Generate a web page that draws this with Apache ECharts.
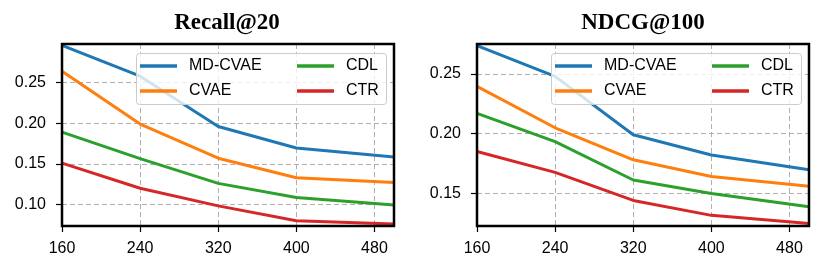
<!DOCTYPE html>
<html>
<head>
<meta charset="utf-8">
<script src="https://cdn.jsdelivr.net/npm/echarts@6/dist/echarts.min.js"></script>
<style>
html,body{margin:0;padding:0;background:#fff;}
#c{width:831px;height:271px;}
</style>
</head>
<body>
<div id="c"></div>
<script>
// ---- data ----
const xValues = [160, 240, 320, 400, 500];
const xTicks = [160, 240, 320, 400, 480];
const seriesNames = ['MD-CVAE', 'CVAE', 'CDL', 'CTR'];

const recallTitle = 'Recall@20';
const recallMDCVAE = [0.296, 0.258, 0.196, 0.1695, 0.1585];
const recallCVAE   = [0.264, 0.199, 0.157, 0.133, 0.127];
const recallCDL    = [0.189, 0.1565, 0.126, 0.1085, 0.0993];
const recallCTR    = [0.151, 0.120, 0.0983, 0.080, 0.076];
const recallTicks  = [0.10, 0.15, 0.20, 0.25];

const ndcgTitle = 'NDCG@100';
const ndcgMDCVAE = [0.2735, 0.2478, 0.199, 0.182, 0.1697];
const ndcgCVAE   = [0.2395, 0.2048, 0.178, 0.164, 0.1558];
const ndcgCDL    = [0.2168, 0.1932, 0.1611, 0.1498, 0.1387];
const ndcgCTR    = [0.1849, 0.1675, 0.144, 0.1315, 0.1246];
const ndcgTicks  = [0.15, 0.20, 0.25];

// ---- styling ----
const colors = ['#1f77b4', '#ff7f0e', '#2ca02c', '#d62728'];
const FONT = '"Liberation Sans", Arial, sans-serif';
const gridDash = {color: '#b0b0b0', width: 1, type: [5, 3]};

const panels = [
  {title: recallTitle, data: [recallMDCVAE, recallCVAE, recallCDL, recallCTR], yTicks: recallTicks,
   ymin: 0.0735, ymax: 0.2976, left: 62, cx: 227, lx: 136},
  {title: ndcgTitle, data: [ndcgMDCVAE, ndcgCVAE, ndcgCDL, ndcgCTR], yTicks: ndcgTicks,
   ymin: 0.1226, ymax: 0.2749, left: 477, cx: 643, lx: 551}
];

const option = {
  backgroundColor: '#fff',
  animation: false,
  title: [], grid: [], xAxis: [], yAxis: [], series: [], legend: [], graphic: []
};

panels.forEach((p, i) => {
  option.title.push({
    text: p.title, left: p.cx, top: 12, padding: 0, textAlign: 'center',
    textStyle: {fontFamily: '"Liberation Serif", "Times New Roman", serif', fontWeight: 'bold', fontSize: 23, color: '#000'}
  });
  option.grid.push({
    left: p.left, top: 44, width: 332, height: 182, show: true,
    borderColor: '#000', borderWidth: 2.5, backgroundColor: 'transparent', z: 3
  });
  option.xAxis.push({
    type: 'value', gridIndex: i, min: 160, max: 500, interval: 80,
    axisLine: {show: false},
    axisTick: {show: true, inside: false, length: 6, lineStyle: {color: '#000', width: 1.2}, customValues: xTicks},
    axisLabel: {show: true, margin: 15, fontFamily: FONT, fontSize: 16, color: '#000', customValues: xTicks},
    splitLine: {show: true, lineStyle: gridDash}
  });
  option.yAxis.push({
    type: 'value', gridIndex: i, min: p.ymin, max: p.ymax,
    axisLine: {show: false},
    axisTick: {show: true, inside: false, length: 6, lineStyle: {color: '#000', width: 1.2}, customValues: p.yTicks},
    axisLabel: {show: true, margin: 16, fontFamily: FONT, fontSize: 16, color: '#000',
      customValues: p.yTicks, formatter: v => v.toFixed(2)},
    splitLine: {show: true, lineStyle: gridDash}
  });
  seriesNames.forEach((name, k) => {
    option.series.push({
      name: name, type: 'line', xAxisIndex: i, yAxisIndex: i,
      data: xValues.map((x, j) => [x, p.data[k][j]]),
      symbol: 'none', lineStyle: {width: 3, color: colors[k]}, itemStyle: {color: colors[k]},
      z: 2
    });
  });
  option.graphic.push({
    type: 'rect', z: 4, left: p.lx, top: 53,
    shape: {width: 250, height: 51, r: 3},
    style: {fill: 'rgba(255,255,255,0.8)', stroke: '#cccccc', lineWidth: 1}
  });
  const legCommon = {
    orient: 'vertical', top: 57, padding: 0, itemGap: 7, z: 5,
    icon: 'rect', itemWidth: 37, itemHeight: 3.5, selectedMode: false,
    textStyle: {fontFamily: FONT, fontSize: 16, color: '#000', lineHeight: 18, padding: [0, 0, 0, 7]}
  };
  option.legend.push(Object.assign({}, legCommon, {left: p.lx + 4, data: [seriesNames[0], seriesNames[1]]}));
  option.legend.push(Object.assign({}, legCommon, {left: p.lx + 161, data: [seriesNames[2], seriesNames[3]]}));
});

const chart = echarts.init(document.getElementById('c'), null, {renderer: 'canvas'});
chart.setOption(option);
</script>
</body>
</html>
